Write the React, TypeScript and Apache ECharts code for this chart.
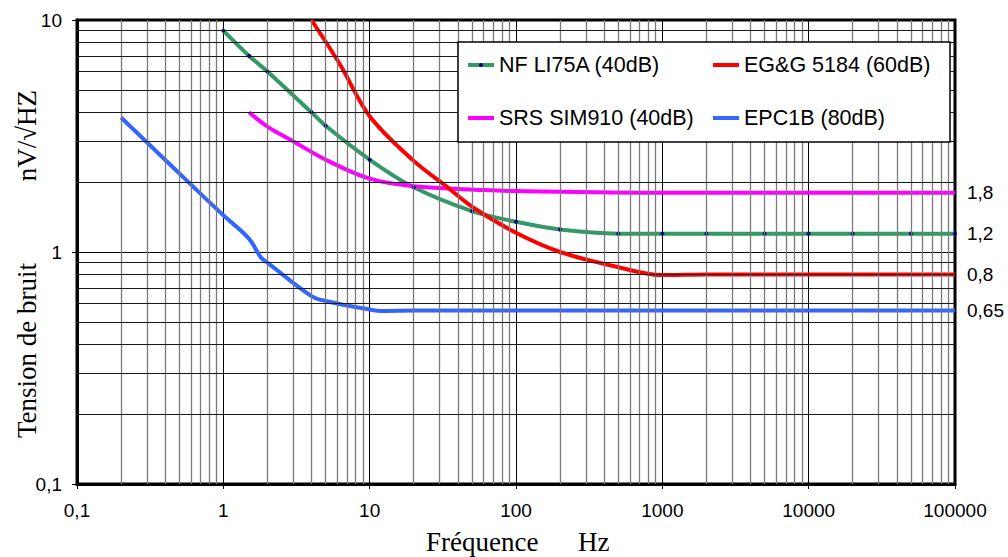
import React, { useEffect, useRef } from "react";
import * as echarts from "echarts";

// ---- data ----
const nfFreq = [1, 1.5, 2, 4, 5, 10, 20, 50, 100, 200, 500, 1000, 2000, 5000, 10000, 20000, 50000, 100000];
const nfNoise = [9, 7, 6, 4, 3.5, 2.5, 1.9, 1.5, 1.35, 1.25, 1.2, 1.2, 1.2, 1.2, 1.2, 1.2, 1.2, 1.2];

const egFreq = [4, 6.3, 10, 20, 32.7, 50, 100, 200, 500, 1000, 2000, 100000];
const egNoise = [10, 6.4, 3.85, 2.47, 1.94, 1.57, 1.21, 1.0, 0.86, 0.795, 0.8, 0.8];

const srsFreq = [1.5, 2, 3, 5, 10, 20, 60, 100, 1000, 100000];
const srsNoise = [4.0, 3.47, 3.0, 2.5, 2.07, 1.92, 1.85, 1.83, 1.8, 1.8];

const epcFreq = [0.2, 0.7, 1, 1.5, 1.8, 2, 4, 5, 10, 12, 20, 100, 1000, 100000];
const epcNoise = [3.8, 1.78, 1.44, 1.14, 0.95, 0.9, 0.645, 0.615, 0.565, 0.557, 0.56, 0.56, 0.56, 0.56];

const seriesNames = ["NF LI75A (40dB)", "EG&G 5184 (60dB)", "SRS SIM910 (40dB)", "EPC1B (80dB)"];
const endLabels = ["1,2", "0,8", "1,8", "0,65"];

// grid decades / multipliers for the minor grid lines
const xDecades = [0.1, 1, 10, 100, 1000, 10000];
const yDecades = [0.1, 1];
const multipliers = [2, 3, 4, 5, 6, 7, 8, 9];

const GREEN = "#339966";
const RED = "#FF0000";
const MAGENTA = "#FF00FF";
const BLUE = "#3366FF";

const SANS = 'Arial, "Liberation Sans", sans-serif';
const SERIF = '"Times New Roman", "Liberation Serif", serif';

const zip = (xs: number[], ys: number[]) => xs.map((x, i) => [x, ys[i]]);

const fmt = (v: number) => (v < 1 ? v.toFixed(1).replace(".", ",") : String(Math.round(v)));

export default function App() {
  const ref = useRef<HTMLDivElement>(null);

  useEffect(() => {
    if (!ref.current) return;
    const chart = echarts.init(ref.current, undefined, { renderer: "svg" });

    const minorX: number[] = [];
    xDecades.forEach((d) => multipliers.forEach((m) => minorX.push(Number((d * m).toPrecision(3)))));
    const minorY: number[] = [];
    yDecades.forEach((d) => multipliers.forEach((m) => minorY.push(Number((d * m).toPrecision(3)))));

    const mkLine = (name: string, xs: number[], ys: number[], color: string, label: string, extra: any = {}) => ({
      name,
      type: "line",
      data: zip(xs, ys),
      smooth: 0.35,
      showSymbol: false,
      symbol: "none",
      z: 3,
      lineStyle: { color, width: 4 },
      itemStyle: { color },
      endLabel: {
        show: true,
        formatter: () => label,
        color: "#000",
        fontSize: 19,
        fontFamily: SANS,
        distance: 12,
      },
      emphasis: { disabled: true },
      ...extra,
    });

    const legendBase = {
      orient: "vertical",
      top: 54,
      itemGap: 31,
      itemWidth: 26,
      itemHeight: 4,
      padding: 0,
      selectedMode: false,
      z: 20,
      textStyle: { color: "#000", fontSize: 21.5, fontFamily: SANS },
    };

    const option: any = {
      animation: false,
      backgroundColor: "#fff",
      grid: {
        left: 77,
        top: 20,
        width: 878,
        height: 464,
        show: true,
        borderColor: "#000",
        borderWidth: 3,
        backgroundColor: "transparent",
        containLabel: false,
      },
      xAxis: {
        type: "log",
        logBase: 10,
        min: 0.1,
        max: 100000,
        axisLine: { show: true, lineStyle: { color: "#000", width: 3 } },
        axisTick: { show: true, length: 5, lineStyle: { color: "#000", width: 1 } },
        axisLabel: {
          color: "#000",
          fontSize: 19,
          fontFamily: SANS,
          margin: 17,
          showMinLabel: true,
          showMaxLabel: true,
          formatter: fmt,
        },
        splitLine: { show: true, lineStyle: { color: "#000", width: 1 } },
      },
      yAxis: {
        type: "log",
        logBase: 10,
        min: 0.1,
        max: 10,
        axisLine: { show: true, lineStyle: { color: "#000", width: 3 } },
        axisTick: { show: true, length: 5, lineStyle: { color: "#000", width: 1 } },
        axisLabel: {
          color: "#000",
          fontSize: 19,
          fontFamily: SANS,
          margin: 15,
          showMinLabel: true,
          showMaxLabel: true,
          formatter: fmt,
        },
        splitLine: { show: true, lineStyle: { color: "#000", width: 1 } },
      },
      legend: [
        {
          ...legendBase,
          left: 468,
          data: [
            { name: seriesNames[0], icon: "rect", itemStyle: { color: GREEN } },
            { name: seriesNames[2], icon: "rect", itemStyle: { color: MAGENTA } },
          ],
        },
        {
          ...legendBase,
          left: 713,
          data: [
            { name: seriesNames[1], icon: "rect", itemStyle: { color: RED } },
            { name: seriesNames[3], icon: "rect", itemStyle: { color: BLUE } },
          ],
        },
      ],
      graphic: {
        elements: [
          {
            type: "rect",
            z: 10,
            shape: { x: 458, y: 42, width: 492, height: 100 },
            style: { fill: "#fff", stroke: "#000", lineWidth: 1.5 },
          },
          {
            type: "circle",
            z: 30,
            shape: { cx: 481, cy: 65, r: 2 },
            style: { fill: "#000080" },
          },
          {
            type: "text",
            x: 426,
            y: 542,
            style: { text: "Fréquence", fontSize: 27, fontFamily: SERIF, fill: "#000", align: "left", verticalAlign: "middle" },
          },
          {
            type: "text",
            x: 578,
            y: 542,
            style: { text: "Hz", fontSize: 27, fontFamily: SERIF, fill: "#000", align: "left", verticalAlign: "middle" },
          },
          {
            type: "text",
            x: 27,
            y: 438,
            rotation: Math.PI / 2,
            style: { text: "Tension de bruit", fontSize: 27, fontFamily: SERIF, fill: "#000", align: "left", verticalAlign: "middle" },
          },
          {
            type: "text",
            x: 27,
            y: 90,
            rotation: Math.PI / 2,
            style: { text: "nV/√HZ", fontSize: 27, fontFamily: SERIF, fill: "#000", align: "right", verticalAlign: "middle" },
          },
        ],
      },
      series: [
        {
          name: "minor-grid",
          type: "line",
          data: [],
          z: 1,
          silent: true,
          markLine: {
            silent: true,
            symbol: ["none", "none"],
            label: { show: false },
            emphasis: { disabled: true },
            lineStyle: { type: "solid", color: "#777", width: 1.3 },
            data: [
              ...minorX.map((v) => ({ xAxis: v, lineStyle: { type: "solid", color: "#7a7a7a", width: 1.3 } })),
              ...minorY.map((v) => ({ yAxis: v, lineStyle: { type: "solid", color: "#1a1a1a", width: 1 } })),
            ],
          },
        },
        mkLine(seriesNames[0], nfFreq, nfNoise, GREEN, endLabels[0], {
          showSymbol: true,
          symbol: "circle",
          symbolSize: 4,
          itemStyle: { color: "#000080" },
        }),
        mkLine(seriesNames[2], srsFreq, srsNoise, MAGENTA, endLabels[2]),
        mkLine(seriesNames[1], egFreq, egNoise, RED, endLabels[1]),
        mkLine(seriesNames[3], epcFreq, epcNoise, BLUE, endLabels[3]),
      ],
    };

    chart.setOption(option);
    return () => chart.dispose();
  }, []);

  return (
    <div
      ref={ref}
      style={{ position: "fixed", left: 0, top: 0, width: 1008, height: 557, background: "#fff" }}
    />
  );
}
